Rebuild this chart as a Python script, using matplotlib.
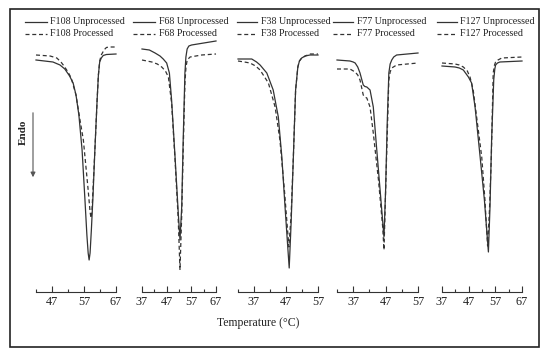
import matplotlib
matplotlib.use("Agg")
import matplotlib.pyplot as plt
from matplotlib.lines import Line2D
from matplotlib.patches import Rectangle, FancyArrowPatch
from matplotlib.ticker import FixedLocator

plt.rcParams['font.family'] = ['Liberation Serif', 'DejaVu Serif']

# ---------------- data (temperature in °C, heat flow in a.u.) ----------------
samples = ["F108", "F68", "F38", "F77", "F127"]

f108_unp_T = [42, 47.3, 49.5, 51.0, 52.5, 53.6, 54.5, 55.4, 56.4, 57.3, 57.9, 58.3, 58.6, 58.9, 59.3, 59.8, 60.4, 61.1, 61.5, 61.9, 62.4, 63.0, 64.0, 67]
f108_unp_H = [0, -0.2, -0.5, -0.9, -1.6, -2.3, -3.5, -5.5, -9.0, -14.0, -17.5, -19.3, -20.0, -19.3, -17.0, -13.7, -9.0, -4.0, -1.5, -0.2, 0.2, 0.45, 0.55, 0.6]
f108_pro_T = [42, 46.4, 48.5, 49.8, 50.75, 52.0, 53, 54.5, 55.75, 56.8, 58.3, 58.9, 59.2, 59.5, 59.8, 60.4, 61.1, 61.5, 61.9, 62.4, 63.25, 64.0, 64.8, 67]
f108_pro_H = [0.5, 0.4, 0.2, -0.2, -0.6, -1.2, -1.8, -3.5, -6.0, -8.0, -13.0, -15.2, -15.8, -15.0, -13.0, -9.0, -4.0, -1.5, -0.1, 0.5, 1.0, 1.25, 1.3, 1.3]

f68_unp_T = [37, 40.0, 42.3, 44.3, 45.6, 47.0, 48.1, 49.0, 50.4, 51.7, 52.4, 53.1, 53.7, 54.4, 54.8, 55.3, 56.0, 57.1, 67]
f68_unp_H = [1.1, 1.0, 0.7, 0.4, 0.1, -0.3, -1.3, -4.0, -9.7, -15.3, -18.0, -14.7, -8.0, -1.3, 0.3, 1.1, 1.4, 1.5, 1.9]
f68_pro_T = [37, 41, 43.2, 45, 46.5, 47.7, 49.0, 50.4, 51.7, 52.4, 53.1, 53.7, 54.4, 54.8, 55.3, 56.5, 61.2, 67]
f68_pro_H = [0, -0.2, -0.4, -0.7, -1.1, -1.7, -4.3, -10.0, -16.0, -21.0, -15.5, -9.0, -2.3, -0.8, 0.0, 0.3, 0.5, 0.6]

f38_unp_T = [32, 36.3, 37.8, 38.9, 41, 43, 44.6, 45.7, 46.7, 47.4, 48.0, 48.6, 49.3, 50.0, 50.7, 51.2, 51.9, 53.0, 54.5, 57]
f38_unp_H = [0.1, 0.1, -0.2, -0.5, -1.3, -3.0, -5.7, -9.7, -14.7, -18.0, -20.8, -16.3, -9.7, -3.0, -0.7, -0.1, 0.2, 0.4, 0.5, 0.5]
f38_pro_T = [32, 34.0, 35.75, 37.5, 38.9, 41.5, 43.6, 45.1, 46.5, 47.9, 48.6, 49.3, 50.0, 50.7, 51.2, 51.9, 53.0, 54.5, 57]
f38_pro_H = [-0.1, -0.2, -0.3, -0.6, -1.0, -2.3, -4.7, -8.0, -13.0, -18.7, -15.5, -9.7, -3.0, -0.7, -0.1, 0.2, 0.4, 0.6, 0.6]

f77_unp_T = [32, 36, 37.0, 37.6, 38.4, 39.1, 40.1, 40.6, 41.2, 42.2, 43.2, 44.2, 45.3, 46.5, 47.0, 47.5, 48.0, 48.4, 48.9, 49.5, 50.4, 57]
f77_unp_H = [0, -0.1, -0.2, -0.3, -0.7, -1.3, -2.5, -2.65, -2.7, -3.0, -4.7, -8.7, -13.0, -17.7, -13.0, -6.3, -1.3, -0.4, 0, 0.3, 0.5, 0.7]
f77_pro_T = [32, 36, 37.6, 38.4, 39.1, 40.1, 40.6, 41.2, 42.2, 43.2, 44.8, 46.1, 46.5, 47.3, 48.0, 48.4, 48.9, 50.4, 57]
f77_pro_H = [-0.9, -0.9, -1.2, -1.5, -2.0, -3.5, -3.7, -3.8, -4.7, -7.3, -12.0, -16.7, -19.0, -9.7, -2.0, -1.2, -0.8, -0.5, -0.3]

f127_unp_T = [37, 41.9, 43.5, 45, 46.9, 48.1, 49.4, 51.3, 52.9, 54.4, 55.0, 55.6, 56.4, 56.8, 57.1, 57.8, 58.7, 67]
f127_unp_H = [-0.6, -0.7, -0.8, -1.0, -1.7, -2.3, -4.7, -9.7, -14.0, -19.2, -14.7, -8.0, -2.0, -0.9, -0.5, -0.3, -0.2, -0.1]
f127_pro_T = [37, 41.9, 43.5, 45, 46.5, 47.5, 48.7, 51.9, 53.1, 54.1, 54.8, 55.5, 56.2, 56.7, 57.1, 58.0, 59.4, 67]
f127_pro_H = [-0.3, -0.4, -0.5, -0.7, -1.1, -1.7, -3.0, -9.7, -14.0, -18.6, -15.0, -9.7, -1.3, -0.5, -0.2, 0.0, 0.2, 0.3]

x_ranges = [(42, 67), (37, 67), (32, 57), (32, 57), (37, 67)]
major_ticks = [[47, 57, 67], [37, 47, 57, 67], [37, 47, 57], [37, 47, 57], [37, 47, 57, 67]]
minor_ticks = [[42, 52, 62], [42, 52, 62], [32, 42, 52], [32, 42, 52], [42, 52, 62]]

curves = [
    ((f108_unp_T, f108_unp_H), (f108_pro_T, f108_pro_H)),
    ((f68_unp_T, f68_unp_H), (f68_pro_T, f68_pro_H)),
    ((f38_unp_T, f38_unp_H), (f38_pro_T, f38_pro_H)),
    ((f77_unp_T, f77_unp_H), (f77_pro_T, f77_pro_H)),
    ((f127_unp_T, f127_unp_H), (f127_pro_T, f127_pro_H)),
]

# ---------------- layout (pixels) ----------------
W, H = 550, 358
fig = plt.figure(figsize=(W / 100, H / 100), dpi=100)

def fx(px):
    return px / W

def fy(py):
    return 1 - py / H

axis_px = [(36, 116), (142, 216), (238, 318), (337, 418), (442, 522)]
ax_top, ax_bot = 40, 292
ylim = (-23.2, 2.0)

line_col = '#333333'
dash = (0, (3.2, 2.2))

for i, ((x0, x1), (unp, pro)) in enumerate(zip(axis_px, curves)):
    ax = fig.add_axes([fx(x0), fy(ax_bot), fx(x1) - fx(x0), (ax_bot - ax_top) / H])
    ax.set_xlim(*x_ranges[i])
    ax.set_ylim(*ylim)
    ax.patch.set_visible(False)
    for s in ['top', 'right', 'left']:
        ax.spines[s].set_visible(False)
    ax.spines['bottom'].set_color('#333333')
    ax.spines['bottom'].set_linewidth(0.8)
    ax.set_yticks([])
    ax.xaxis.set_major_locator(FixedLocator(major_ticks[i]))
    ax.xaxis.set_minor_locator(FixedLocator(minor_ticks[i]))
    ax.set_xticklabels([str(t) for t in major_ticks[i]])
    ax.tick_params(axis='x', which='major', direction='in', length=4.5, width=0.8,
                   color='#333333', labelsize=8.8, pad=3, labelcolor='#222222')
    ax.tick_params(axis='x', which='minor', direction='in', length=2.5, width=0.8,
                   color='#333333')
    ax.plot(unp[0], unp[1], color=line_col, lw=0.9, clip_on=False)
    ax.plot(pro[0], pro[1], color=line_col, lw=0.9, ls=dash, clip_on=False)

# ---------------- legend ----------------
leg_line = [(25, 47, 50), (133, 155, 159), (237, 257, 261), (333, 353, 357), (437, 457, 460)]
rows = [(22, "Unprocessed", '-'), (34, "Processed", dash)]
for (l0, l1, tx), name in zip(leg_line, samples):
    for ry, kind, ls in rows:
        fig.add_artist(Line2D([fx(l0), fx(l1)], [fy(ry), fy(ry)], transform=fig.transFigure,
                              color=line_col, lw=0.9, ls=ls))
        fig.text(fx(tx), fy(ry), f"{name} {kind}", fontsize=7.2, va='center', ha='left',
                 color='#222222')

# ---------------- Endo arrow & labels ----------------
fig.add_artist(FancyArrowPatch((fx(33), fy(110)), (fx(33), fy(180)), transform=fig.transFigure,
                               arrowstyle='-|>', mutation_scale=7, color='#555555', lw=0.8))
fig.text(fx(23), fy(132), "Endo", rotation=90, fontsize=8, fontweight='bold',
         va='center', ha='center', color='#222222')
fig.text(fx(258), fy(323), "Temperature (°C)", fontsize=8.5, va='center', ha='center',
         color='#222222')

# ---------------- outer frame ----------------
fig.add_artist(Rectangle((fx(10), fy(347)), fx(539) - fx(10), fy(9) - fy(347),
                         transform=fig.transFigure, fill=False, edgecolor='#222222', lw=1.2))

fig.savefig("out.png", dpi=100)
